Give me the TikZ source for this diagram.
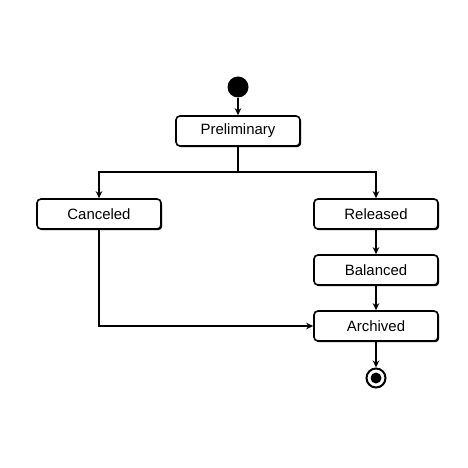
\documentclass[tikz,border=0pt]{standalone}
\usepackage{fontspec}
\setmainfont{Liberation Sans}
\usetikzlibrary{positioning,arrows.meta,shadows}
\tikzset{
  state box/.style={draw=black,line width=1.6bp,fill=white,rounded corners=4bp,
    minimum width=124bp,minimum height=30bp,align=center,inner sep=2bp,
    font=\fontsize{15}{17}\selectfont,
    drop shadow={shadow xshift=1.2bp,shadow yshift=-1.2bp,fill=black,opacity=1}},
  start dot/.style={circle,fill=black,minimum size=21bp,inner sep=0pt},
  end dot/.style={circle,draw=black,line width=2bp,fill=white,minimum size=19bp,inner sep=0pt,
    path picture={\fill[black] (path picture bounding box.center) circle (5.5bp);}},
  flow arrow/.style={-{Stealth[length=7bp,width=6.5bp]},line width=1.6bp},
  flow line/.style={line width=1.6bp}
}
\begin{document}
\begin{tikzpicture}[x=1bp,y=-1bp]
  \useasboundingbox (0,0) rectangle (468,468);
  \node[start dot] (start) at (238,87) {};
  \node[state box] (prelim) at (238,131) {Preliminary};
  \node[state box] (cancel) at (99,214) {Canceled};
  \node[state box] (released) at (376,214) {Released};
  \node[state box] (balanced) at (376,270) {Balanced};
  \node[state box] (archived) at (376,326) {Archived};
  \node[end dot] (stop) at (376,378) {};
  \coordinate (split) at (238,172);
  \draw[flow arrow] (start) -- (prelim);
  \draw[flow line] (prelim.south) -- (split);
  \draw[flow arrow] (split) -| (cancel.north);
  \draw[flow arrow] (split) -| (released.north);
  \draw[flow arrow] (released) -- (balanced);
  \draw[flow arrow] (balanced) -- (archived);
  \draw[flow arrow] (cancel.south) |- (archived.west);
  \draw[flow arrow] (archived) -- (stop);
\end{tikzpicture}
\end{document}
